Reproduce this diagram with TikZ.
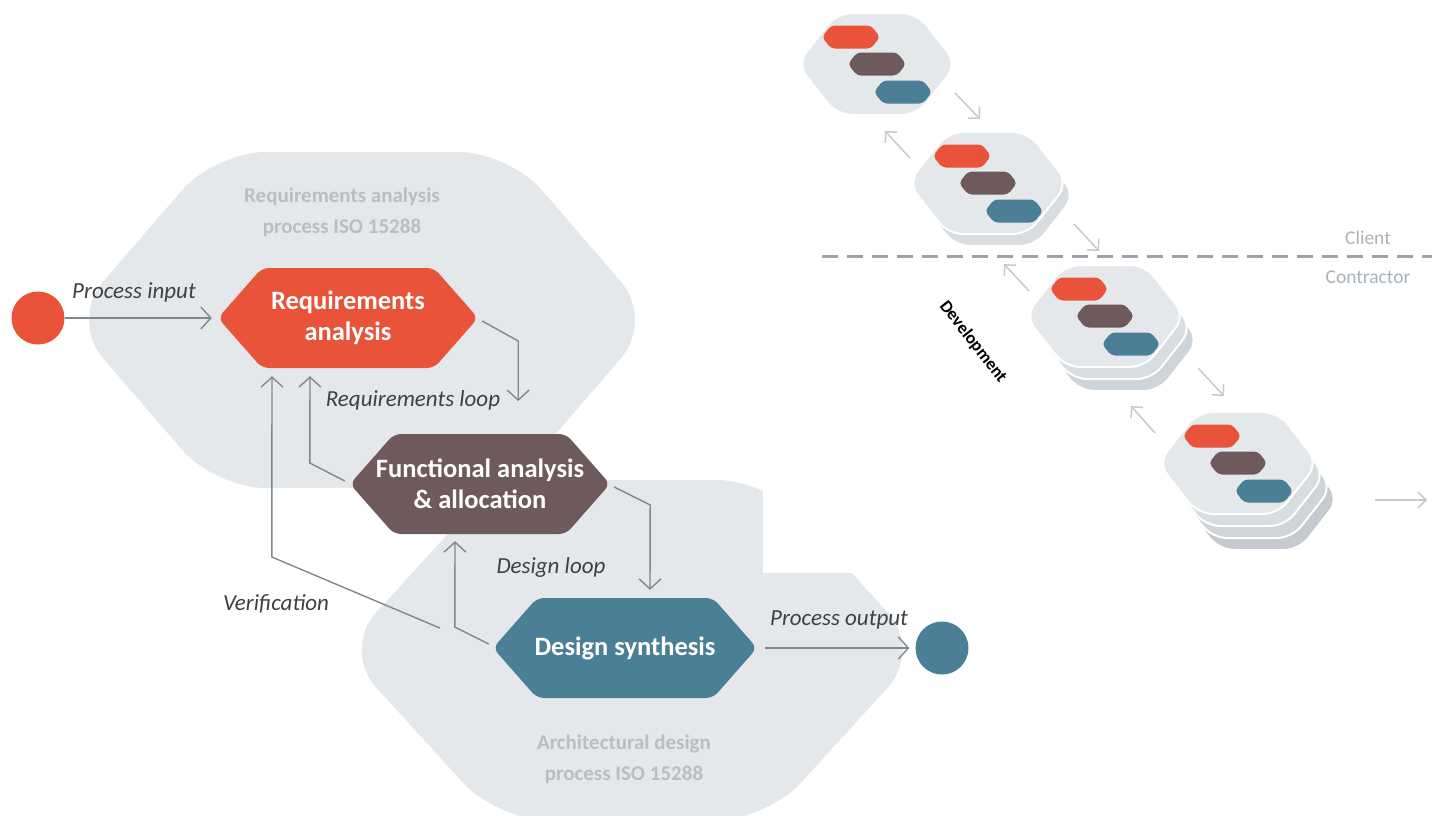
\documentclass[tikz,border=0pt]{standalone}
\usepackage{fontspec}
\setmainfont{Carlito}
\usetikzlibrary{arrows.meta,calc}
\definecolor{reqor}{HTML}{E8533A}
\definecolor{funbr}{HTML}{6E5A5C}
\definecolor{desbl}{HTML}{4A7F96}
\definecolor{bggray}{HTML}{E5E8EB}
\definecolor{lblgray}{HTML}{B8BEC3}
\definecolor{arrgray}{HTML}{80878D}
\definecolor{txtdark}{HTML}{3C4146}
\definecolor{stkarr}{HTML}{C6CACD}
\definecolor{layA}{HTML}{D8DDE0}
\definecolor{layB}{HTML}{CED4D8}
\definecolor{layC}{HTML}{C4CACF}
\definecolor{dashgray}{HTML}{9EA2A6}
\definecolor{sidegray}{HTML}{A8B2B9}

\newcommand{\bighex}[5]{%
  \fill[bggray, rounded corners=50pt] (#1-#3,#2) -- (#1-#5,#2-#4) -- (#1+#5,#2-#4) -- (#1+#3,#2) -- (#1+#5,#2+#4) -- (#1-#5,#2+#4) -- cycle;}
\newcommand{\mainhex}[6]{%
  \fill[#4, rounded corners=7pt] (#2-#6,#3) -- (#2-#6+44,#3-50) -- (#2+#6-44,#3-50) -- (#2+#6,#3) -- (#2+#6-44,#3+50) -- (#2-#6+44,#3+50) -- cycle;
  \node[hexlabel, minimum width=2*#6 pt] (#1) at (#2,#3) {#5};}
\newcommand{\stkshape}[3]{%
  \filldraw[fill=#3, draw=white, line width=2pt, rounded corners=15pt] (#1-80,#2) -- (#1-40,#2-51) -- (#1+40,#2-51) -- (#1+80,#2) -- (#1+40,#2+51) -- (#1-40,#2+51) -- cycle;}
\newcommand{\minihex}[3]{%
  \fill[#3, rounded corners=4pt] (#1-29,#2) -- (#1-20,#2-11.5) -- (#1+20,#2-11.5) -- (#1+29,#2) -- (#1+20,#2+11.5) -- (#1-20,#2+11.5) -- cycle;}
\newcommand{\minitrio}[2]{%
  \minihex{#1-26}{#2-27}{reqor}\minihex{#1}{#2}{funbr}\minihex{#1+26}{#2+28}{desbl}}

\tikzset{
  hexlabel/.style={rectangle, inner sep=0pt, minimum height=100pt, text=white, align=center,
    font=\bfseries\fontsize{26.5}{31}\selectfont},
  conn/.style={draw=arrgray, line width=1.4pt, -{Straight Barb[length=10pt,width=22pt]}},
  sarr/.style={draw=stkarr, line width=1.5pt, -{Straight Barb[length=8pt,width=16pt]}},
  flowlbl/.style={text=txtdark, font=\itshape\fontsize{23}{27}\selectfont, inner sep=0pt},
  grplbl/.style={text=lblgray, align=center, font=\bfseries\fontsize{21}{31}\selectfont, inner sep=0pt},
  sidelbl/.style={text=sidegray, font=\fontsize{19.5}{23}\selectfont, inner sep=0pt},
  endpt/.style={circle, inner sep=0pt, minimum size=53pt}
}

\begin{document}
\begin{tikzpicture}[x=1pt,y=-1pt]
\useasboundingbox (0,0) rectangle (1432,815);

% background process regions
\bighex{362}{320}{292}{168}{147}
\bighex{632}{650}{290}{170}{135}
\fill[white] (763,468) rectangle (930,573);

\node[grplbl] (gA) at (342,212) {Requirements analysis\\process ISO 15288};
\node[grplbl] (gB) at (624,759) {Architectural design\\process ISO 15288};

% main process steps
\mainhex{req}{348}{318}{reqor}{Requirements\\analysis}{130}
\mainhex{fun}{480}{484}{funbr}{Functional analysis\\\& allocation}{130}
\mainhex{des}{625}{648}{desbl}{Design synthesis}{132}

\node[endpt, fill=reqor] (inc) at (38,318) {};
\node[endpt, fill=desbl] (outc) at (942,648) {};

% connectors
\draw[conn, shorten >=6pt] (inc) -- (req.west);
\draw[conn] ($(req.east)+(4,3)$) -- ++(36,20) -- ($(req.east)+(40,83)$);
\draw[conn] ($(fun.west)+(-5,-3)$) -- ++(-35,-18) -- ($(req.south)+(-38,8)$);
\draw[conn] ($(des.west)+(-53,-20)$) -- ++(-168,-71) -- ($(req.south)+(-76,8)$);
\draw[conn] ($(des.west)+(-4,-4)$) -- ++(-34,-17) -- ($(fun.south)+(-25,7)$);
\draw[conn] ($(fun.east)+(4,3)$) -- ++(36,18) -- ($(des.north)+(25,-8)$);
\draw[conn, shorten >=6pt] ($(des.east)+(8,0)$) -- (outc.west);

\node[flowlbl] (lin) at (134,292) {Process input};
\node[flowlbl] (lrl) at (413,400) {Requirements loop};
\node[flowlbl] (ldl) at (551,567) {Design loop};
\node[flowlbl] (lver) at (276,604) {Verification};
\node[flowlbl] (lout) at (839,620) {Process output};

% right side: development increments
\stkshape{877}{64}{bggray}
\minitrio{877}{64}

\stkshape{995}{195}{layA}
\stkshape{988}{183}{bggray}
\minitrio{988}{183}

\stkshape{1119}{340}{layB}
\stkshape{1112}{328}{layA}
\stkshape{1105}{316}{bggray}
\minitrio{1105}{316}

\stkshape{1259}{499}{layC}
\stkshape{1252}{487}{layB}
\stkshape{1245}{475}{layA}
\stkshape{1238}{463}{bggray}
\minitrio{1238}{463}

\coordinate (a1s) at (955,93);   \coordinate (a1e) at (980,119);
\coordinate (a2s) at (910,158);  \coordinate (a2e) at (885,131);
\coordinate (a3s) at (1074,224); \coordinate (a3e) at (1099,251);
\coordinate (a4s) at (1029,291); \coordinate (a4e) at (1004,264);
\coordinate (a5s) at (1198,368); \coordinate (a5e) at (1224,396);
\coordinate (a6s) at (1155,433); \coordinate (a6e) at (1131,406);
\coordinate (a7s) at (1375,500); \coordinate (a7e) at (1427,500);
\draw[sarr] (a1s) -- (a1e);
\draw[sarr] (a2s) -- (a2e);
\draw[sarr] (a3s) -- (a3e);
\draw[sarr] (a4s) -- (a4e);
\draw[sarr] (a5s) -- (a5e);
\draw[sarr] (a6s) -- (a6e);
\draw[sarr] (a7s) -- (a7e);

\coordinate (dl1) at (822,256);
\coordinate (dl2) at (1432,256);
\draw[dashgray, line width=3pt, dash pattern=on 16pt off 9pt] (dl1) -- (dl2);
\node[sidelbl] (cl) at (1368,238) {Client};
\node[sidelbl] (co) at (1368,277) {Contractor};
\node[text=black, font=\bfseries\fontsize{17.5}{20}\selectfont, rotate=-52, inner sep=0pt] (dev) at (973,342) {Development};
\end{tikzpicture}
\end{document}
